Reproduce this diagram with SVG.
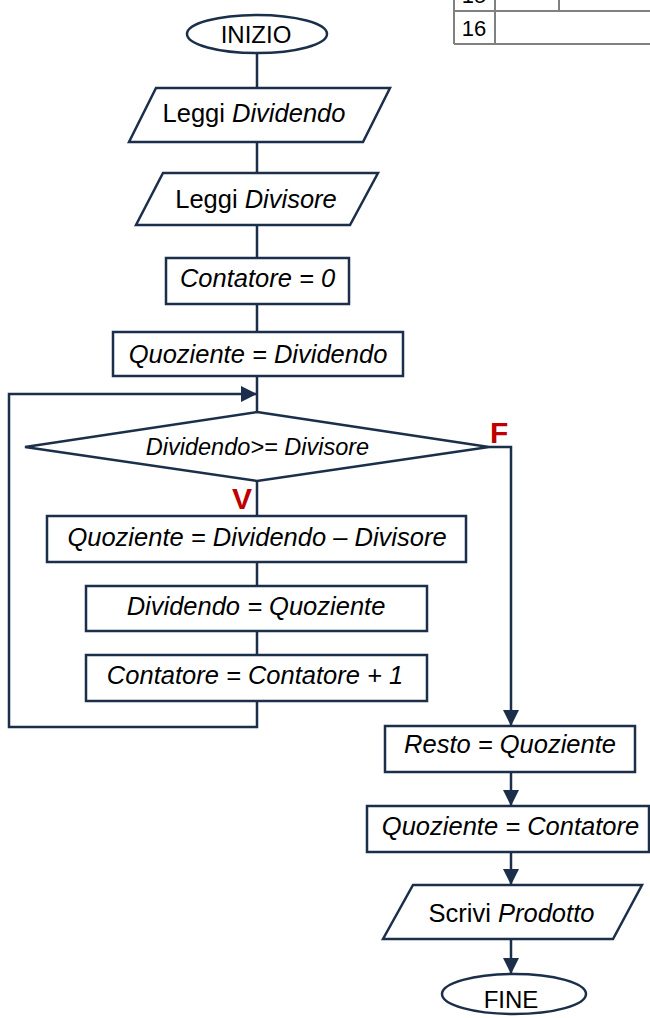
<svg xmlns="http://www.w3.org/2000/svg" width="650" height="1018" viewBox="0 0 650 1018">
<style>
.s{fill:#fff;stroke:#1b2f4b;stroke-width:2.5}
.c{fill:none;stroke:#1b2f4b;stroke-width:2.5}
.t{font-family:"Liberation Sans",Arial,sans-serif;font-size:25.5px;fill:#000;text-anchor:middle}
.i{font-style:italic}
.lbl{font-family:"Liberation Sans",Arial,sans-serif;font-weight:bold;font-size:30px;fill:#c00000}
.g{fill:none;stroke:#808080;stroke-width:2}
.gt{font-family:"Liberation Sans",Arial,sans-serif;font-size:22px;fill:#000;text-anchor:middle}
</style>
<defs>
<marker id="ah" markerUnits="userSpaceOnUse" markerWidth="16" markerHeight="16" refX="16" refY="8" orient="auto">
<path d="M0,0 L16,8 L0,16 z" fill="#1b2f4b"/>
</marker>
</defs>
<g id="table">
<path class="g" d="M454,0 V44 M495,0 V44 M559,0 V11 M454,11 H650 M454,44 H650"/>
<text class="gt" x="474" y="3">15</text>
<text class="gt" x="474" y="36">16</text>
</g>
<g id="connectors">
<path class="c" d="M257,53 V88 M257,142 V173 M257,225 V258 M257,304 V332 M257,376 V412 M257,481 V516 M257,562 V586 M257,631 V655"/>
<path class="c" d="M257,701 V727 H9 V394 H257" marker-end="url(#ah)"/>
<path class="c" d="M489,447 H511 V726" marker-end="url(#ah)"/>
<path class="c" d="M511,772 V806" marker-end="url(#ah)"/>
<path class="c" d="M511,852 V885" marker-end="url(#ah)"/>
<path class="c" d="M511,939 V974" marker-end="url(#ah)"/>
<text class="lbl" x="490" y="443">F</text>
<text class="lbl" x="232" y="509">V</text>
</g>
<g id="inizio">
<ellipse class="s" cx="257" cy="34" rx="70" ry="19"/>
<text class="t" x="256" y="43" style="font-size:24px">INIZIO</text>
</g>
<g id="leggi-dividendo">
<polygon class="s" points="156,88 390,88 363,142 129,142"/>
<text class="t" x="254" y="122">Leggi <tspan class="i">Dividendo</tspan></text>
</g>
<g id="leggi-divisore">
<polygon class="s" points="163,173 378,173 350,225 136,225"/>
<text class="t" x="256" y="208">Leggi <tspan class="i">Divisore</tspan></text>
</g>
<g id="contatore0">
<rect class="s" x="166" y="258" width="183" height="46"/>
<text class="t i" x="257.5" y="287">Contatore = 0</text>
</g>
<g id="quoziente-dividendo">
<rect class="s" x="113" y="332" width="290" height="44"/>
<text class="t i" x="258" y="363">Quoziente = Dividendo</text>
</g>
<g id="decisione">
<polygon class="s" points="257,412 489,447 257,481 25,447"/>
<text class="t i" x="257.5" y="455" style="font-size:23.5px">Dividendo&gt;= Divisore</text>
</g>
<g id="sottrazione">
<rect class="s" x="47" y="516" width="419" height="46"/>
<text class="t i" x="257" y="546">Quoziente = Dividendo – Divisore</text>
</g>
<g id="dividendo-quoziente">
<rect class="s" x="86" y="586" width="341" height="45"/>
<text class="t i" x="256" y="615">Dividendo = Quoziente</text>
</g>
<g id="incremento">
<rect class="s" x="86" y="655" width="341" height="46"/>
<text class="t i" x="255" y="684">Contatore = Contatore + 1</text>
</g>
<g id="resto">
<rect class="s" x="385" y="726" width="250" height="46"/>
<text class="t i" x="510" y="753">Resto = Quoziente</text>
</g>
<g id="quoziente-contatore">
<rect class="s" x="367" y="806" width="282" height="46"/>
<text class="t i" x="510.5" y="835">Quoziente = Contatore</text>
</g>
<g id="scrivi">
<polygon class="s" points="413,885 642,885 613,939 383,939"/>
<text class="t" x="511.5" y="922">Scrivi <tspan class="i">Prodotto</tspan></text>
</g>
<g id="fine">
<ellipse class="s" cx="514" cy="994" rx="72" ry="20"/>
<text class="t" x="511" y="1008" style="font-size:24px">FINE</text>
</g>
</svg>
